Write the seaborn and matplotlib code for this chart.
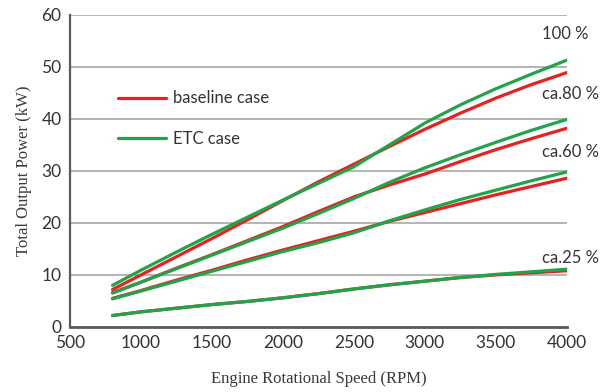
import matplotlib
matplotlib.use("Agg")
import matplotlib.pyplot as plt
import seaborn as sns
import pandas as pd

# Engine speed grid (RPM)
rpm = [800, 1000, 1250, 1500, 1750, 2000, 2250, 2500, 2750, 3000, 3250, 3500, 3750, 4000]

# Total output power (kW) per load level
base_100 = [7.2, 10.0, 13.5, 17.0, 20.6, 24.3, 27.9, 31.3, 34.7, 38.0, 41.1, 44.0, 46.6, 48.9]
etc_100 = [8.0, 10.9, 14.4, 17.8, 21.1, 24.4, 27.6, 30.8, 35.0, 39.2, 42.7, 45.8, 48.6, 51.3]
base_80 = [6.6, 8.6, 11.3, 13.9, 16.6, 19.3, 22.2, 25.0, 27.3, 29.4, 31.8, 34.1, 36.2, 38.2]
etc_80 = [6.5, 8.6, 11.2, 13.8, 16.4, 19.0, 21.8, 24.7, 27.8, 30.6, 33.1, 35.5, 37.8, 39.9]
base_60 = [5.5, 7.0, 9.0, 10.9, 12.9, 14.8, 16.6, 18.4, 20.3, 22.0, 23.7, 25.4, 27.0, 28.6]
etc_60 = [5.4, 6.9, 8.8, 10.7, 12.6, 14.5, 16.2, 18.1, 20.4, 22.5, 24.5, 26.3, 28.1, 29.8]
base_25 = [2.2, 2.9, 3.6, 4.3, 4.9, 5.6, 6.4, 7.3, 8.1, 8.8, 9.5, 10.0, 10.4, 10.8]
etc_25 = [2.2, 2.9, 3.6, 4.3, 4.9, 5.6, 6.4, 7.3, 8.1, 8.8, 9.5, 10.1, 10.6, 11.1]

cases = ["baseline case", "ETC case"]
load_labels = ["100 %", "ca.80 %", "ca.60 %", "ca.25 %"]
label_pos = [56.3, 44.8, 33.7, 13.3]

xticks = [500, 1000, 1500, 2000, 2500, 3000, 3500, 4000]
yticks = [0, 10, 20, 30, 40, 50, 60]

series = {
    ("baseline case", "100"): base_100,
    ("ETC case", "100"): etc_100,
    ("baseline case", "80"): base_80,
    ("ETC case", "80"): etc_80,
    ("baseline case", "60"): base_60,
    ("ETC case", "60"): etc_60,
    ("baseline case", "25"): base_25,
    ("ETC case", "25"): etc_25,
}

rows = []
for (case, load), values in series.items():
    for r, v in zip(rpm, values):
        rows.append({"rpm": r, "power": v, "case": case, "load": load})
df = pd.DataFrame(rows)

sns.set_theme(style="white")
plt.rcParams["font.family"] = ["Lato", "DejaVu Sans"]

fig = plt.figure(figsize=(6.03, 3.92), dpi=100)
ax = fig.add_axes([0.116, 0.166, 0.824, 0.796])

palette = {"baseline case": "#e8211e", "ETC case": "#21a34b"}
sns.lineplot(data=df, x="rpm", y="power", hue="case", units="load",
             estimator=None, palette=palette, hue_order=cases,
             linewidth=2.3, ax=ax, sort=True)
for line in ax.get_lines():
    line.set_solid_joinstyle("round")
    line.set_solid_capstyle("round")

ax.set_xlim(500, 4000)
ax.set_ylim(0, 60)
ax.set_xticks(xticks)
ax.set_yticks(yticks)
ax.yaxis.grid(True, color="#b4b4b4", linewidth=1.4)
ax.set_axisbelow(True)
for side in ["top", "right"]:
    ax.spines[side].set_visible(False)
ax.spines["left"].set_color("#5a5a5a")
ax.spines["left"].set_linewidth(1.6)
ax.spines["bottom"].set_color("#5a5a5a")
ax.spines["bottom"].set_linewidth(2.0)
ax.tick_params(axis="both", length=0, labelsize=12.5, colors="#333333", pad=6)

ax.set_xlabel("Engine Rotational Speed (RPM)", family="Liberation Serif",
              fontsize=12, color="#3a3a3a", labelpad=14)
ax.set_ylabel("Total Output Power (kW)", family="Liberation Serif",
              fontsize=12, color="#3a3a3a", labelpad=7)

for text, yv in zip(load_labels, label_pos):
    ax.text(3824, yv, text, fontsize=12, color="#333333",
            ha="left", va="center", clip_on=False)

leg = ax.legend(loc="center left", bbox_to_anchor=(0.08, 0.668), frameon=False,
                fontsize=12, handlelength=2.9, handletextpad=0.4,
                labelspacing=1.45, borderpad=0, title=None)
for t in leg.get_texts():
    t.set_color("#333333")

fig.savefig("out.png", dpi=100)
